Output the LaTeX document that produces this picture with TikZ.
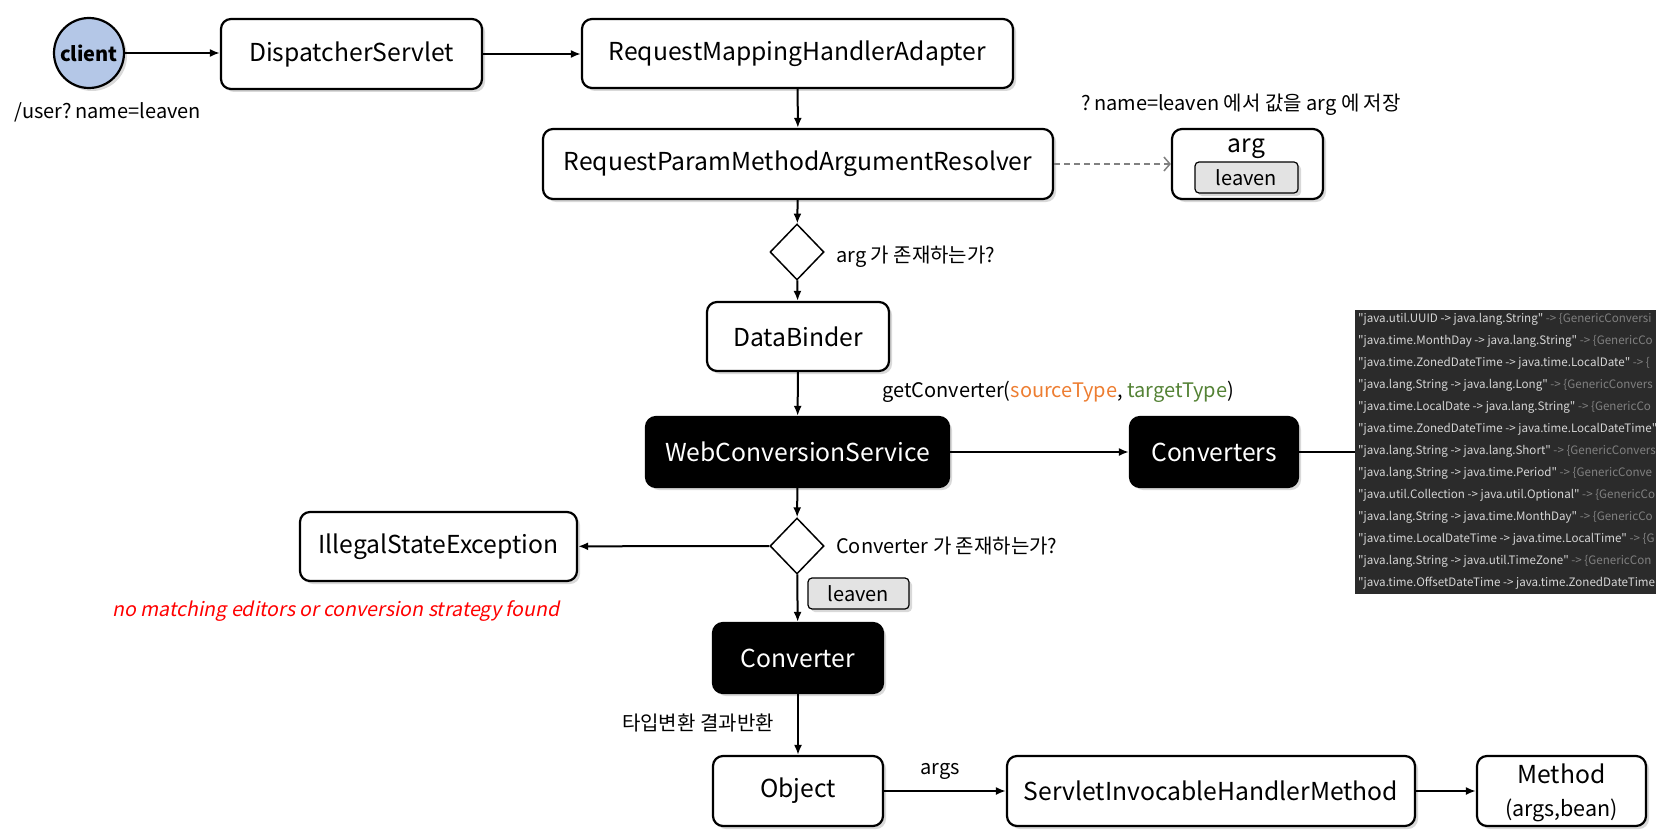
\documentclass[tikz,border=0pt]{standalone}
\usepackage{fontspec}
\setmainfont{Noto Sans CJK KR}
\newfontfamily\slfont[FakeSlant=0.2]{Noto Sans CJK KR}
\usetikzlibrary{arrows.meta,shapes.geometric,shadows}
\definecolor{cblue}{HTML}{B4C7E7}
\definecolor{panelbg}{HTML}{2B2B2B}
\definecolor{ptext}{HTML}{D6D6D6}
\definecolor{pgray}{HTML}{808080}
\definecolor{corange}{HTML}{ED7D31}
\definecolor{cgreen}{HTML}{548235}
\definecolor{cred}{HTML}{FF0000}
\definecolor{lgray}{HTML}{E3E3E3}
\newcommand{\q}{\textquotedbl{}}
\tikzset{
  shad/.style={drop shadow={opacity=0.3, shadow xshift=3pt, shadow yshift=-3pt}},
  box/.style={draw, line width=2.2pt, rounded corners=10pt, fill=white, shad,
    font=\fontsize{24.7}{28}\selectfont, inner sep=0pt, align=center},
  blackbox/.style={box, fill=black, text=white},
  tagbox/.style={draw, line width=1.2pt, rounded corners=4pt, fill=lgray, shad,
    font=\fontsize{20}{23}\selectfont, inner sep=0pt},
  dia/.style={draw, diamond, line width=1.5pt, fill=white, minimum width=54pt,
    minimum height=56pt, inner sep=0pt},
  lbl/.style={font=\fontsize{20}{23}\selectfont, inner sep=0pt},
  arr/.style={line width=2pt, -{Latex[length=10pt,width=8pt]}},
  ptxt/.style={font=\fontsize{11.6}{14}\selectfont, inner sep=0pt, anchor=west, text=ptext},
}
\begin{document}
\begin{tikzpicture}[x=1pt,y=-1pt]
\useasboundingbox (0,0) rectangle (1675,840);
% nodes
\node[draw, circle, line width=2.2pt, fill=cblue, minimum size=70pt, inner sep=0pt, shad,
  font=\fontsize{20}{24}\selectfont\bfseries] (client) at (89,53) {client};
\node[lbl] (url) at (108,112) {/user?\,name=leaven};
\node[box, minimum width=261pt, minimum height=70pt] (ds) at (351.5,54) {DispatcherServlet};
\node[box, minimum width=431pt, minimum height=69pt] (rmha) at (797.5,53.5) {RequestMappingHandlerAdapter};
\node[box, minimum width=510pt, minimum height=70pt] (rpmar) at (798,164) {RequestParamMethodArgumentResolver};
\node[box, minimum width=151pt, minimum height=70pt] (arg) at (1247.5,164) {};
\node[font=\fontsize{24.7}{28}\selectfont, inner sep=0pt] (argt) at (1246.5,148.5) {arg};
\node[tagbox, minimum width=103pt, minimum height=31pt] (argv) at (1246.5,177.5) {leaven};
\node[lbl] (store) at (1241,105) {?\,name=leaven 에서 값을 arg 에 저장};
\node[dia] (d1) at (797,252) {};
\node[lbl, anchor=west] (q1) at (836,257) {arg 가 존재하는가?};
\node[box, minimum width=182pt, minimum height=69pt] (db) at (798,336.5) {DataBinder};
\node[lbl, anchor=west] (gc) at (882,392) {getConverter(\textcolor{corange}{sourceType}, \textcolor{cgreen}{targetType})};
\node[blackbox, minimum width=303pt, minimum height=70pt] (wcs) at (797.5,452) {WebConversionService};
\node[blackbox, minimum width=168pt, minimum height=70pt] (cvs) at (1214,452) {Converters};
\node[draw=none, fill=panelbg, minimum width=301pt, minimum height=284pt, inner sep=0pt] (panel) at (1505.5,452) {};
\begin{scope}
\clip (1355,310) rectangle (1656,594);
\foreach \i/\a/\b in {
 1/{\q java.util.UUID -> java.lang.String\q}/{\ -> \{GenericConversi},
 2/{\q java.time.MonthDay -> java.lang.String\q}/{\ -> \{GenericCo},
 3/{\q java.time.ZonedDateTime -> java.time.LocalDate\q}/{\ -> \{},
 4/{\q java.lang.String -> java.lang.Long\q}/{\ -> \{GenericConvers},
 5/{\q java.time.LocalDate -> java.lang.String\q}/{\ -> \{GenericCo},
 6/{\q java.time.ZonedDateTime -> java.time.LocalDateTime\q}/{},
 7/{\q java.lang.String -> java.lang.Short\q}/{\ -> \{GenericConvers},
 8/{\q java.lang.String -> java.time.Period\q}/{\ -> \{GenericConve},
 9/{\q java.util.Collection -> java.util.Optional\q}/{\ -> \{GenericCo},
 10/{\q java.lang.String -> java.time.MonthDay\q}/{\ -> \{GenericCo},
 11/{\q java.time.LocalDateTime -> java.time.LocalTime\q}/{\ -> \{G},
 12/{\q java.lang.String -> java.util.TimeZone\q}/{\ -> \{GenericCon},
 13/{\q java.time.OffsetDateTime -> java.time.ZonedDateTime}/{}}
 {\node[ptxt] (p\i) at (1358,{319+(\i-1)*22}) {\a\textcolor{pgray}{\b}};}
\end{scope}
\node[dia] (d2) at (797,546) {};
\node[lbl, anchor=west] (q2) at (836,546) {Converter 가 존재하는가?};
\node[box, minimum width=277pt, minimum height=69pt] (ise) at (438.5,546.5) {IllegalStateException};
\node[lbl, text=cred, font=\fontsize{19.6}{22}\selectfont\slfont] (err) at (336,611) {no matching editors or conversion strategy found};
\node[tagbox, minimum width=101pt, minimum height=31pt] (lv2) at (858.5,593.5) {leaven};
\node[blackbox, minimum width=170pt, minimum height=70pt] (conv) at (798,658) {Converter};
\node[lbl] (ret) at (698,723) {타입변환 결과반환};
\node[box, minimum width=170pt, minimum height=70pt] (obj) at (798,791) {Object};
\node[box, minimum width=408pt, minimum height=70pt] (sihm) at (1211,791) {ServletInvocableHandlerMethod};
\node[box, minimum width=169pt, minimum height=70pt] (meth) at (1561.5,791) {};
\node[font=\fontsize{24.7}{28}\selectfont, inner sep=0pt] (mt1) at (1561.5,774) {Method};
\node[font=\fontsize{21.5}{24}\selectfont, inner sep=0pt] (mt2) at (1561.5,810) {(args,bean)};
\node[lbl] (argsl) at (940,771) {args};
% edges
\draw[arr] (client) -- (client -| ds.west);
\draw[arr] (ds.east) -- (ds.east -| rmha.west);
\draw[arr] (rmha) -- (rpmar);
\draw[line width=1.5pt, draw=pgray, dash pattern=on 6pt off 4pt, -{Straight Barb[length=6pt,width=14pt]}] (rpmar) -- (arg);
\draw[arr] (rpmar) -- (d1);
\draw[arr] (d1) -- (db);
\draw[arr] (db) -- (wcs);
\draw[arr] (wcs) -- (cvs);
\draw[line width=2pt] (cvs) -- (panel);
\draw[arr] (wcs) -- (d2);
\draw[arr] (d2) -- (ise);
\draw[arr] (d2) -- (conv);
\draw[arr] (conv) -- (obj);
\draw[arr] (obj) -- (sihm);
\draw[arr] (sihm) -- (meth);
\end{tikzpicture}
\end{document}
